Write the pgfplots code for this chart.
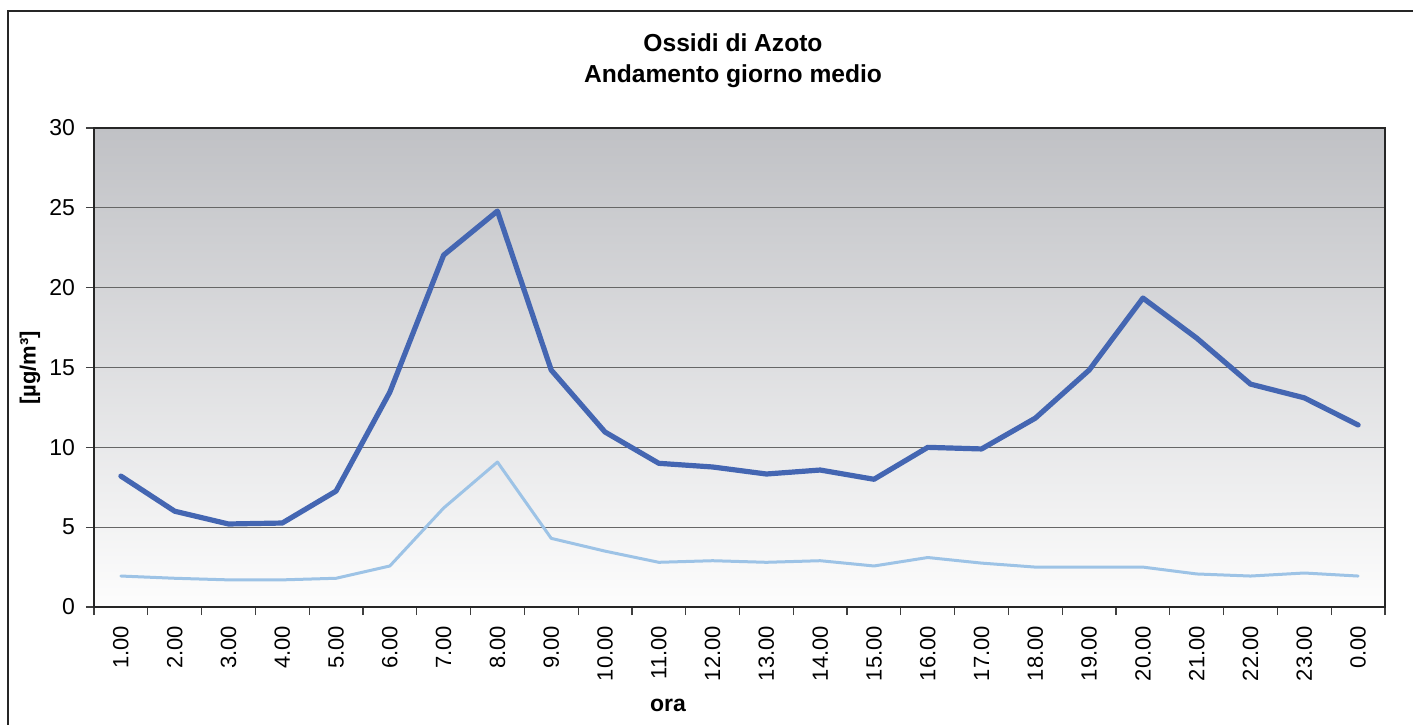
\documentclass[border=0pt]{standalone}
\usepackage{fontspec}
\setmainfont{Liberation Sans}
\usepackage{pgfplots}
\pgfplotsset{compat=1.18}
\definecolor{dkblue}{RGB}{68,102,178}
\definecolor{ltblue}{RGB}{157,195,230}
\definecolor{bgtop}{RGB}{192,193,197}
\definecolor{bgmid}{RGB}{226,227,229}
\definecolor{bgbot}{RGB}{253,253,253}
\begin{document}
\begin{tikzpicture}[x=1pt,y=1pt]
\draw[line width=0.8pt, black!85] (4,-380) -- (4,-5.5) -- (720,-5.5);
\node[font=\fontsize{12.3}{15.5}\selectfont\bfseries, align=center] at (366.5,-30.5) {Ossidi di Azoto\\Andamento giorno medio};
\begin{axis}[
  at={(47pt,-303.5pt)}, anchor=south west,
  scale only axis, width=645.5pt, height=239.5pt,
  xmin=-0.5, xmax=23.5, ymin=0, ymax=30,
  ytick={0,5,...,30},
  xtick={0,...,23},
  xticklabels={1.00,2.00,3.00,4.00,5.00,6.00,7.00,8.00,9.00,10.00,11.00,12.00,13.00,14.00,15.00,16.00,17.00,18.00,19.00,20.00,21.00,22.00,23.00,0.00},
  minor xtick={-0.5,0.5,...,23.5},
  major x tick style={draw=none},
  minor tick length=4pt,
  major tick length=4pt,
  tick align=outside,
  xtick pos=bottom, ytick pos=left,
  tick style={line width=0.6pt, black!75},
  x tick label style={rotate=90, anchor=east, font=\fontsize{11}{12}\selectfont, yshift=0pt, xshift=-2pt},
  y tick label style={font=\fontsize{11.5}{12}\selectfont, xshift=-2pt},
  /pgf/number format/assume math mode=true,
  ymajorgrids,
  grid style={line width=0.5pt, black!60},
  axis line style={line width=1pt, black!85},
  axis background/.style={shade, top color=bgtop, middle color=bgmid, bottom color=bgbot},
]
\addplot[dkblue, line width=2.6pt, line join=round, line cap=round] coordinates {
(0,8.2) (1,6.0) (2,5.2) (3,5.26) (4,7.26) (5,13.46) (6,22.04) (7,24.8) (8,14.84) (9,10.96) (10,9.0) (11,8.77) (12,8.33) (13,8.58) (14,8.0) (15,10.0) (16,9.9) (17,11.83) (18,14.84) (19,19.35) (20,16.84) (21,13.96) (22,13.1) (23,11.4)};
\addplot[ltblue, line width=1.5pt, line join=round, line cap=round] coordinates {
(0,1.94) (1,1.8) (2,1.7) (3,1.7) (4,1.8) (5,2.57) (6,6.2) (7,9.08) (8,4.3) (9,3.5) (10,2.8) (11,2.9) (12,2.8) (13,2.9) (14,2.57) (15,3.1) (16,2.75) (17,2.5) (18,2.5) (19,2.5) (20,2.07) (21,1.94) (22,2.13) (23,1.94)};
\end{axis}
\node[rotate=90, font=\fontsize{11}{12}\selectfont\bfseries] at (15,-184) {[µg/m³]};
\node[font=\fontsize{11.5}{12}\selectfont\bfseries] at (334,-352.5) {ora};
\pgfresetboundingbox
\path[use as bounding box] (0,0) rectangle (706.5,-362);
\end{tikzpicture}
\end{document}
